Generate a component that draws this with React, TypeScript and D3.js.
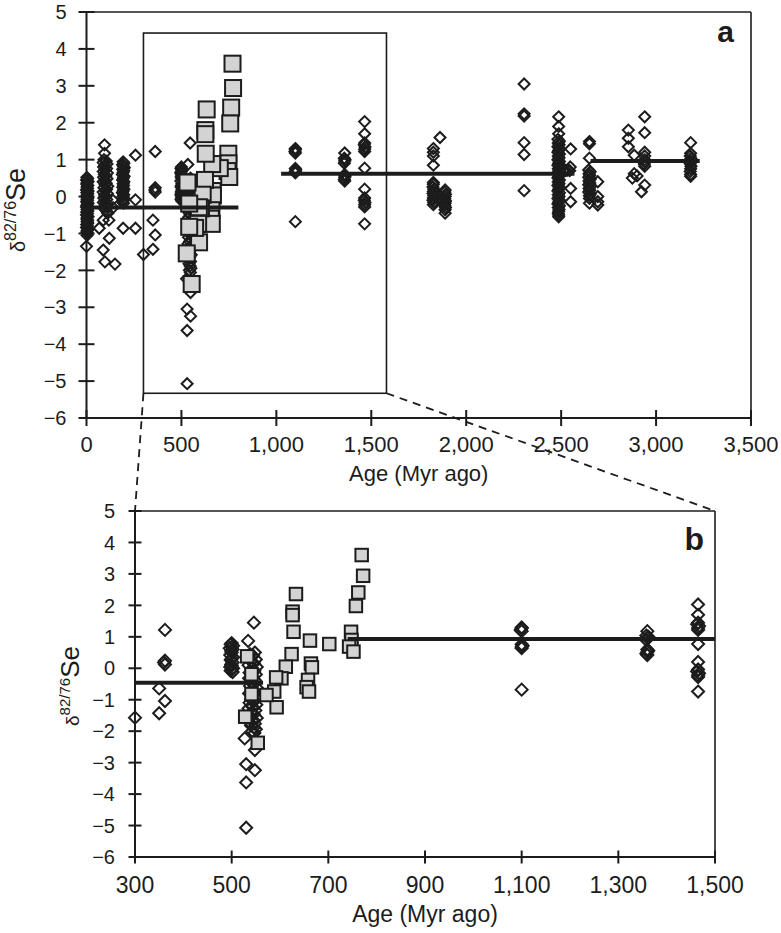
import React from 'react';
import * as d3 from 'd3';

type Pt = [number, number];

// open diamonds, [age (Myr ago), δ82/76Se]
const youngDiamonds: Pt[] = [
  [2, 0.52], [6, 0.48], [0, 0.45], [8, 0.41], [4, 0.38], [1, 0.34], [7, 0.3], [3, 0.26],
  [5, 0.22], [0, 0.18], [8, 0.15], [2, 0.11], [6, 0.08], [4, 0.04], [0, 0.0], [7, -0.04],
  [3, -0.07], [5, -0.11], [1, -0.14], [8, -0.18], [4, -0.21], [2, -0.25], [0, -0.28],
  [6, -0.32], [3, -0.35], [7, -0.39], [1, -0.42], [5, -0.46], [0, -0.5], [8, -0.54],
  [4, -0.57], [2, -0.61], [6, -0.64], [3, -0.68], [7, -0.72], [1, -0.76], [5, -0.8],
  [0, -0.84], [8, -0.88], [4, -0.92], [2, -0.96], [6, -1.0], [3, -1.05], [0, -1.35],
  [95, 1.4], [95, 1.17], [92, 1.0], [104, 0.96], [88, 0.92], [108, 0.88], [96, 0.84],
  [90, 0.8], [106, 0.76], [98, 0.72], [88, 0.68], [110, 0.64], [94, 0.6], [102, 0.56],
  [90, 0.52], [108, 0.48], [96, 0.44], [88, 0.4], [104, 0.36], [98, 0.32], [112, 0.28],
  [92, 0.24], [106, 0.2], [100, 0.16], [88, 0.12], [110, 0.08], [95, 0.04], [103, 0.0],
  [91, -0.04], [107, -0.08], [97, -0.12], [89, -0.16], [105, -0.2], [99, -0.24],
  [111, -0.28], [93, -0.32], [101, -0.36], [108, -0.41], [112, -0.45],
  [137, -0.09], [140, -0.3], [88, -0.64], [118, -0.64], [67, -0.86], [120, -1.13],
  [88, -1.45], [97, -1.77], [150, -1.83],
  [193, 0.94], [197, 0.9], [190, 0.86], [195, 0.82], [199, 0.78], [191, 0.74], [196, 0.7],
  [193, 0.65], [189, 0.6], [198, 0.55], [194, 0.5], [190, 0.45], [197, 0.4], [193, 0.35],
  [195, 0.3], [191, 0.25], [197, 0.2], [193, 0.15], [189, 0.1], [196, 0.05], [192, 0.0],
  [198, -0.05], [194, -0.1], [190, -0.14], [195, -0.18], [193, -0.86],
  [258, 1.12], [258, -0.09], [258, -0.86],
];

const neoDiamonds: Pt[] = [
  [362, 1.22], [362, 0.24], [360, 0.18], [362, 0.12], [350, -0.64], [362, -1.04],
  [350, -1.43], [300, -1.57],
  [500, 0.8], [498, 0.76], [503, 0.72], [500, 0.68], [496, 0.64], [502, 0.6], [499, 0.55],
  [500, 0.5], [497, 0.42], [503, 0.35], [500, 0.3], [498, 0.26], [502, 0.18], [499, 0.12],
  [500, 0.08], [497, 0.04], [503, 0.0], [500, -0.04], [498, -0.08], [502, -0.12],
  [546, 1.45], [534, 0.87], [548, 0.5], [538, 0.45], [544, 0.4], [536, 0.34], [550, 0.28],
  [540, 0.22], [546, 0.16], [535, 0.1], [552, 0.04], [541, -0.02], [547, -0.08],
  [537, -0.14], [550, -0.2], [542, -0.26], [536, -0.32], [548, -0.38], [540, -0.44],
  [546, -0.5], [538, -0.56], [552, -0.62], [542, -0.68], [548, -0.74], [536, -0.8],
  [545, -0.86], [550, -0.92], [540, -0.98], [547, -1.04], [537, -1.1], [551, -1.16],
  [543, -1.22], [535, -1.28], [549, -1.34], [541, -1.4], [546, -1.46], [538, -1.52],
  [552, -1.58], [544, -1.64], [536, -1.7], [548, -1.76], [540, -1.82], [546, -1.88],
  [550, -1.94], [542, -2.0], [547, -2.06], [527, -2.23], [548, -2.6],
  [530, -3.05], [548, -3.24], [530, -3.63], [530, -5.07],
];

const mesoDiamonds: Pt[] = [
  [1100, 1.3], [1100, 1.27], [1098, 1.22], [1100, 1.18], [1100, 0.76], [1102, 0.72],
  [1100, 0.68], [1100, 0.64], [1100, -0.68],
  [1360, 1.18], [1358, 1.04], [1362, 1.0], [1360, 0.96], [1358, 0.9], [1360, 0.6],
  [1362, 0.56], [1360, 0.52], [1358, 0.46], [1360, 0.42],
  [1465, 2.03], [1465, 1.7], [1465, 1.45], [1463, 1.4], [1467, 1.34], [1465, 1.28],
  [1465, 1.22], [1465, 0.77], [1465, 0.2], [1465, -0.04], [1463, -0.1], [1467, -0.16],
  [1465, -0.22], [1465, -0.28], [1465, -0.74],
];

const oldDiamonds: Pt[] = [
  [1862, 1.6], [1827, 1.3], [1827, 1.2], [1827, 1.1], [1827, 0.85], [1827, 0.38], [1827, 0.33],
  [1825, 0.26], [1829, 0.2], [1827, 0.14], [1825, 0.08], [1829, 0.02], [1827, -0.04],
  [1825, -0.1], [1829, -0.16], [1827, -0.22],
  [1889, 0.18], [1887, 0.12], [1891, 0.06], [1889, 0.0], [1887, -0.06], [1891, -0.12],
  [1889, -0.18], [1887, -0.24], [1891, -0.3], [1889, -0.36], [1889, -0.45],
  [2305, 3.05], [2305, 2.24], [2305, 2.18], [2305, 1.46], [2305, 1.14], [2305, 0.16],
  [2487, 2.16], [2487, 1.9], [2487, 1.7], [2483, 1.55], [2491, 1.5], [2485, 1.45],
  [2489, 1.4], [2483, 1.35], [2491, 1.3], [2487, 1.25], [2483, 1.2], [2491, 1.15],
  [2485, 1.1], [2489, 1.05], [2483, 1.0], [2491, 0.95], [2487, 0.9], [2483, 0.85],
  [2491, 0.8], [2485, 0.75], [2489, 0.7], [2483, 0.65], [2491, 0.6], [2487, 0.55],
  [2483, 0.5], [2491, 0.45], [2485, 0.4], [2489, 0.35], [2483, 0.3], [2491, 0.25],
  [2487, 0.2], [2483, 0.15], [2491, 0.1], [2485, 0.05], [2489, 0.0], [2483, -0.05],
  [2491, -0.1], [2487, -0.15], [2483, -0.2], [2491, -0.25], [2485, -0.3], [2489, -0.35],
  [2487, -0.4], [2485, -0.45], [2487, -0.5], [2487, -0.55],
  [2505, 0.78], [2515, 0.72], [2525, 0.7], [2535, 0.72],
  [2550, 1.29], [2548, 0.8], [2545, 0.7], [2550, 0.22], [2550, -0.14],
  [2649, 1.49], [2649, 1.43], [2649, 1.04], [2645, 0.72], [2653, 0.67], [2647, 0.62],
  [2651, 0.57], [2645, 0.52], [2653, 0.47], [2647, 0.42], [2651, 0.37], [2645, 0.32],
  [2653, 0.27], [2647, 0.22], [2651, 0.17], [2645, 0.12], [2653, 0.07], [2649, 0.02],
  [2649, -0.05], [2649, -0.18],
  [2693, 0.4], [2693, 0.0], [2693, -0.14], [2693, -0.23],
  [2854, 1.8], [2854, 1.58], [2854, 1.35], [2885, 1.12], [2885, 0.62], [2875, 0.5],
  [2900, 0.56], [2923, 0.13],
  [2940, 2.16], [2940, 1.73], [2940, 1.2], [2940, 1.1], [2940, 1.0], [2942, 0.94],
  [2938, 0.88], [2940, 0.82], [2940, 0.31],
  [3182, 1.46], [3182, 1.17], [3180, 1.1], [3184, 1.03], [3182, 0.96], [3180, 0.89],
  [3184, 0.82], [3182, 0.75], [3180, 0.68], [3182, 0.6], [3182, 0.55],
];

// grey squares
const squarePts: Pt[] = [
  [769, 3.6], [772, 2.94], [762, 2.41], [757, 1.98], [747, 1.16], [748, 0.9], [743, 0.69],
  [752, 0.53], [702, 0.77], [662, 0.88], [664, 0.15], [666, 0.03], [658, -0.37], [655, -0.6],
  [660, -0.74], [633, 2.36], [626, 1.8], [626, 1.69], [628, 1.16], [624, 0.45], [612, 0.05],
  [603, -0.32], [592, -0.29], [588, -0.74], [593, -1.24], [572, -0.85], [554, -2.37],
  [532, 0.38], [541, -0.19], [541, -0.82], [528, -1.54],
];

// mean lines: [from age, to age, value]
const meansA: [number, number, number][] = [[0, 800, -0.3], [1025, 2570, 0.62], [2655, 3230, 0.96]];
const meansB: [number, number, number][] = [[300, 565, -0.46], [740, 1500, 0.93]];

const xTicksA = [0, 500, 1000, 1500, 2000, 2500, 3000, 3500];
const xTicksB = [300, 500, 700, 900, 1100, 1300, 1500];
const yTicks = [-6, -5, -4, -3, -2, -1, 0, 1, 2, 3, 4, 5];

// zoom box drawn in panel a
const insetAges = [300, 1580];
const insetValues = [-5.33, 4.43];

const allDiamonds = [...youngDiamonds, ...neoDiamonds, ...mesoDiamonds, ...oldDiamonds];

const FONT = 'Liberation Sans, Arial, Helvetica, sans-serif';
const INK = '#1c1c1c';

const fmtY = (v: number) => (v < 0 ? '\u2212' + Math.abs(v) : String(v));
const fmtX = d3.format(',');

interface PanelProps {
  left: number; right: number; top: number; bottom: number;
  xDomain: [number, number];
  xTicks: number[];
  diamonds: Pt[];
  squares: Pt[];
  means: [number, number, number][];
  tag: string;
  tagX: number; tagY: number; tagSize: number;
  dR: number; sq: number; tick: number;
  yFont: number; xFont: number; xLabelY: number; titleY: number; titleFont: number;
  yLabelX: number; yLabelY: number; yLabelSizes: [number, number, number];
  children?: React.ReactNode;
}

function scalesFor(p: { left: number; right: number; top: number; bottom: number; xDomain: [number, number] }) {
  const x = d3.scaleLinear().domain(p.xDomain).range([p.left, p.right]);
  const y = d3.scaleLinear().domain([-6, 5]).range([p.bottom, p.top]);
  return { x, y };
}

const Panel: React.FC<PanelProps> = (p) => {
  const { x, y } = scalesFor(p);
  const diamondPath = (r: number) => `M0,${-r}L${r},0L0,${r}L${-r},0Z`;
  const [dSize, supSize, seSize] = p.yLabelSizes;
  return (
    <g>
      {/* frame */}
      <line x1={p.left} x2={p.right} y1={p.top} y2={p.top} stroke={INK} strokeWidth={1.6} />
      <line x1={p.right} x2={p.right} y1={p.top} y2={p.bottom} stroke={INK} strokeWidth={1.6} />
      {p.children}
      {/* points */}
      {p.diamonds.map((d, i) => (
        <path key={'d' + i} d={diamondPath(p.dR)} transform={`translate(${x(d[0])},${y(d[1])})`}
          fill="none" stroke={INK} strokeWidth={2} />
      ))}
      {p.squares.map((d, i) => (
        <rect key={'s' + i} x={x(d[0]) - p.sq / 2} y={y(d[1]) - p.sq / 2} width={p.sq} height={p.sq}
          fill="#d3d3d3" stroke={INK} strokeWidth={2} />
      ))}
      {p.means.map((m, i) => (
        <line key={'m' + i} x1={x(m[0])} x2={x(m[1])} y1={y(m[2])} y2={y(m[2])} stroke={INK} strokeWidth={4} />
      ))}
      {/* axes */}
      <line x1={p.left} x2={p.left} y1={p.top} y2={p.bottom} stroke={INK} strokeWidth={2} />
      <line x1={p.left} x2={p.right} y1={p.bottom} y2={p.bottom} stroke={INK} strokeWidth={2} />
      {yTicks.map((t) => (
        <g key={'yt' + t}>
          <line x1={p.left - p.tick} x2={p.left + p.tick} y1={y(t)} y2={y(t)} stroke={INK} strokeWidth={2} />
          <text x={p.left - 20} y={y(t)} dy="0.36em" textAnchor="end" fontSize={p.yFont} fill={INK} fontFamily={FONT}>
            {fmtY(t)}
          </text>
        </g>
      ))}
      {p.xTicks.map((t) => (
        <g key={'xt' + t}>
          <line x1={x(t)} x2={x(t)} y1={p.bottom - p.tick} y2={p.bottom + p.tick} stroke={INK} strokeWidth={2} />
          <text x={x(t)} y={p.xLabelY} textAnchor="middle" fontSize={p.xFont} fill={INK} fontFamily={FONT}>
            {fmtX(t)}
          </text>
        </g>
      ))}
      <text x={(p.left + p.right) / 2} y={p.titleY} textAnchor="middle" fontSize={p.titleFont} fill={INK} fontFamily={FONT}>
        Age (Myr ago)
      </text>
      <text transform={`translate(${p.yLabelX},${p.yLabelY}) rotate(-90)`} textAnchor="middle" fill={INK} fontFamily={FONT}>
        <tspan fontSize={dSize}>δ</tspan>
        <tspan fontSize={supSize} dy={-dSize * 0.45}>82/76</tspan>
        <tspan fontSize={seSize} dy={dSize * 0.45}>Se</tspan>
      </text>
      <text x={p.tagX} y={p.tagY} textAnchor="end" fontSize={p.tagSize} fontWeight="bold" fill={INK} fontFamily={FONT}>
        {p.tag}
      </text>
    </g>
  );
};

const geomA = { left: 86.5, right: 751, top: 12, bottom: 418, xDomain: [0, 3500] as [number, number] };
const geomB = { left: 135, right: 715, top: 511, bottom: 857, xDomain: [300, 1500] as [number, number] };

export default function App() {
  const a = scalesFor(geomA);
  const b = scalesFor(geomB);
  const inB = (d: Pt) => d[0] >= 300 && d[0] <= 1500;
  const bx0 = a.x(insetAges[0]);
  const bx1 = a.x(insetAges[1]);
  const by0 = a.y(insetValues[1]);
  const by1 = a.y(insetValues[0]);
  return (
    <svg width={781} height={933} style={{ position: 'absolute', left: 0, top: 0, background: '#fff' }}>
      <Panel {...geomA} xTicks={xTicksA} diamonds={allDiamonds} squares={squarePts} means={meansA}
        tag="a" tagX={734} tagY={42} tagSize={30} dR={5.5} sq={16} tick={8}
        yFont={20} xFont={22} xLabelY={452} titleY={481} titleFont={22}
        yLabelX={25} yLabelY={210} yLabelSizes={[20, 16, 27]}>
        <rect x={bx0} y={by0} width={bx1 - bx0} height={by1 - by0} fill="none" stroke={INK} strokeWidth={1.6} />
      </Panel>
      <Panel {...geomB} xTicks={xTicksB} diamonds={allDiamonds.filter(inB)} squares={squarePts.filter(inB)} means={meansB}
        tag="b" tagX={704} tagY={550} tagSize={32} dR={6} sq={12.5} tick={6.5}
        yFont={20} xFont={23} xLabelY={893} titleY={922} titleFont={23}
        yLabelX={79} yLabelY={686} yLabelSizes={[19, 15, 26]} />
      <line x1={bx0} y1={by1} x2={b.x(300)} y2={b.y(5)} stroke={INK} strokeWidth={1.8} strokeDasharray="8,6" />
      <line x1={bx1} y1={by1} x2={b.x(1500)} y2={b.y(5)} stroke={INK} strokeWidth={1.8} strokeDasharray="8,6" />
    </svg>
  );
}
